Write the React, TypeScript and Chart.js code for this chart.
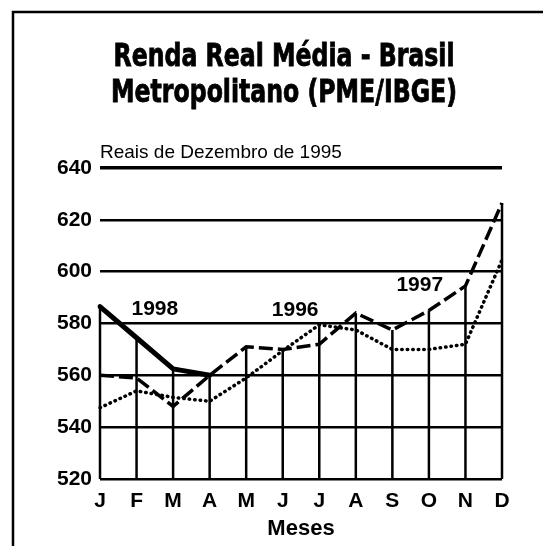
import React, { useEffect, useRef } from "react";
import { Chart, registerables } from "chart.js";

Chart.register(...registerables);

// ---- Data ----
const months = ["J", "F", "M", "A", "M", "J", "J", "A", "S", "O", "N", "D"];
const yTickValues = [520, 540, 560, 580, 600, 620, 640];
const seriesNames = ["1998", "1997", "1996"];
const values1998 = [586.5, 574.5, 562.5, 560, null, null, null, null, null, null, null, null];
const values1997 = [560, 559, 548, 560, 571, 570, 572, 584, 577.5, 585, 594.5, 626.5];
const values1996 = [547.5, 554, 551.5, 550, 559, 569.5, 579.5, 577.5, 570, 570, 572, 604.5];
const titleLines = ["Renda Real Média - Brasil", "Metropolitano (PME/IBGE)"];
const subtitleText = "Reais de Dezembro de 1995";
const xAxisTitle = "Meses";

const SANS = "'Liberation Sans', Arial, Helvetica, sans-serif";
const CONDENSED = "'DejaVu Sans Condensed', 'Liberation Sans Narrow', 'Liberation Sans', sans-serif";

// label anchors (category index, value) for the series names
const seriesLabelAnchors: Record<string, [number, number]> = {
  "1998": [1.5, 585.6],
  "1996": [5.34, 585],
  "1997": [8.75, 594.8],
};

const dropLinesPlugin = {
  id: "dropLines",
  beforeDatasetsDraw(chart: any) {
    const { ctx, scales } = chart;
    const x = scales.x;
    const y = scales.y;
    ctx.save();
    ctx.strokeStyle = "#000";
    ctx.lineWidth = 2.5;
    months.forEach((_, i) => {
      const vals = chart.data.datasets
        .map((d: any) => d.data[i])
        .filter((v: any) => v !== null && v !== undefined);
      if (!vals.length) return;
      const top = Math.max(...vals);
      const px = x.getPixelForValue(i);
      ctx.beginPath();
      ctx.moveTo(px, y.getPixelForValue(top));
      ctx.lineTo(px, y.getPixelForValue(yTickValues[0]));
      ctx.stroke();
    });
    ctx.restore();
  },
};

const decorPlugin = {
  id: "decor",
  afterDraw(chart: any) {
    const { ctx, scales } = chart;
    const x = scales.x;
    const y = scales.y;
    ctx.save();
    // page frame (left and top edges)
    ctx.strokeStyle = "#000";
    ctx.lineWidth = 2.5;
    ctx.beginPath();
    ctx.moveTo(13, chart.height);
    ctx.lineTo(13, 12);
    ctx.lineTo(chart.width, 12);
    ctx.stroke();

    // condensed heavy title, drawn as text squeezed horizontally
    ctx.fillStyle = "#000";
    ctx.font = `bold 32px ${CONDENSED}`;
    ctx.textBaseline = "alphabetic";
    ctx.textAlign = "center";
    const w0 = ctx.measureText(titleLines[0]).width;
    const sx = w0 > 0 ? 341 / w0 : 1;
    const cx = 284;
    const baselines = [66, 101.5];
    titleLines.forEach((line, i) => {
      ctx.save();
      ctx.translate(cx, baselines[i]);
      ctx.scale(sx, 1);
      ctx.fillText(line, 0, 0);
      ctx.lineWidth = 0.8;
      ctx.strokeStyle = "#000";
      ctx.strokeText(line, 0, 0);
      ctx.restore();
    });

    // series labels
    ctx.font = `bold 21px ${SANS}`;
    ctx.textAlign = "center";
    ctx.textBaseline = "middle";
    seriesNames.forEach((name) => {
      const a = seriesLabelAnchors[name];
      if (!a) return;
      ctx.fillText(name, x.getPixelForValue(a[0]), y.getPixelForValue(a[1]));
    });
    ctx.restore();
  },
};

export default function App() {
  const ref = useRef<HTMLCanvasElement | null>(null);

  useEffect(() => {
    if (!ref.current) return;
    const chart = new Chart(ref.current, {
      type: "line",
      data: {
        labels: months,
        datasets: [
          {
            label: seriesNames[0],
            data: values1998,
            borderColor: "#000",
            borderWidth: 5,
            pointRadius: 0,
            tension: 0,
            spanGaps: false,
            borderCapStyle: "round",
            borderJoinStyle: "round",
          },
          {
            label: seriesNames[1],
            data: values1997,
            borderColor: "#000",
            borderWidth: 3.5,
            borderDash: [14, 5],
            pointRadius: 0,
            tension: 0,
          },
          {
            label: seriesNames[2],
            data: values1996,
            borderColor: "#000",
            borderWidth: 3.5,
            borderDash: [0.5, 5],
            borderCapStyle: "round",
            pointRadius: 0,
            tension: 0,
          },
        ],
      },
      options: {
        responsive: false,
        animation: false,
        layout: { padding: { top: 0, left: 12, right: 41, bottom: 0 } },
        plugins: {
          legend: { display: false },
          tooltip: { enabled: false },
          title: { display: false },
          subtitle: {
            display: true,
            text: subtitleText,
            align: "start",
            fullSize: false,
            color: "#000",
            font: { family: SANS, size: 19, weight: "normal", lineHeight: 1.2 },
            padding: { top: 141.1, bottom: 4.1 },
          },
        },
        scales: {
          x: {
            type: "category",
            offset: false,
            grid: { display: false, drawTicks: false },
            border: { display: false },
            ticks: {
              color: "#000",
              padding: 10,
              font: { family: SANS, size: 21, weight: "bold" },
              maxRotation: 0,
              autoSkip: false,
            },
            title: {
              display: true,
              text: xAxisTitle,
              color: "#000",
              font: { family: SANS, size: 22, weight: "bold", lineHeight: 1.2 },
              padding: { top: 0, bottom: 4 },
            },
            afterFit: (s: any) => {
              s.height = 67;
            },
          },
          y: {
            min: yTickValues[0],
            max: yTickValues[yTickValues.length - 1],
            afterBuildTicks: (s: any) => {
              s.ticks = yTickValues.map((v) => ({ value: v }));
            },
            grid: {
              color: "#000",
              lineWidth: (c: any) => (c.tick && c.tick.value === 640 ? 3.5 : 2.5),
              drawTicks: false,
            },
            border: { display: false },
            ticks: {
              color: "#000",
              padding: 8,
              font: { family: SANS, size: 21, weight: "bold" },
            },
            afterFit: (s: any) => {
              s.width = 88;
            },
          },
        },
      },
      plugins: [dropLinesPlugin, decorPlugin],
    } as any);
    return () => chart.destroy();
  }, []);

  return (
    <div style={{ position: "absolute", left: 0, top: 0, width: 543, height: 546, background: "#fff" }}>
      <canvas ref={ref} width={543} height={546} style={{ display: "block" }} />
    </div>
  );
}
